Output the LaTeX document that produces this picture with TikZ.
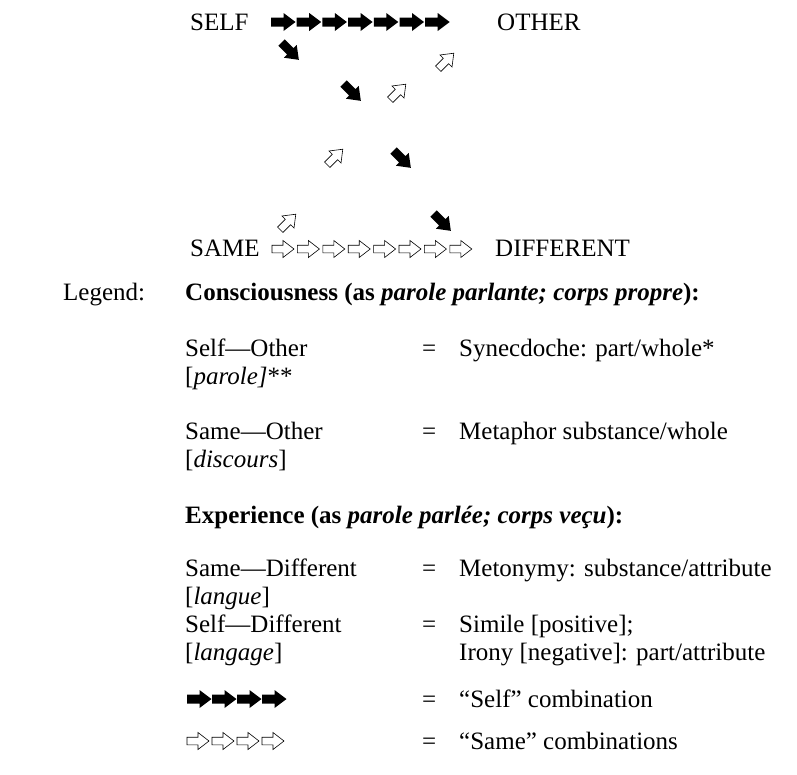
\documentclass[tikz,border=0pt]{standalone}
\usepackage{fontspec}
\setmainfont{Liberation Serif}

\tikzset{
  selfarrow/.pic={\fill (-12,-4.5) -- (0.5,-4.5) -- (0.5,-9) -- (12.5,0) -- (0.5,9) -- (0.5,4.5) -- (-12,4.5) -- cycle;},
  samearrow/.pic={\draw[line width=0.6pt,fill=white] (-11,-3.8) -- (0,-3.8) -- (0,-8.5) -- (11,0) -- (0,8.5) -- (0,3.8) -- (-11,3.8) -- cycle;},
}

\begin{document}
\begin{tikzpicture}[x=1pt,y=-1pt,
    every node/.style={font=\fontsize{25}{30}\selectfont,inner sep=0pt},
    word/.style={anchor=base west}]
    \useasboundingbox (0,0) rectangle (797,774);
    % the square of terms
    \node[word] (self) at (190,30) {SELF};
    \node[word] (other) at (497,30) {OTHER};
    \node[word] (same) at (190,256) {SAME};
    \node[word] (diff) at (495,256) {DIFFERENT};
    \foreach \i in {0,...,6}
      \pic at (283+25.7*\i,22) {selfarrow};
    \foreach \i in {0,...,7}
      \pic at (283+25.4*\i,249) {samearrow};
    \foreach \x/\y in {290/51,352/92,402/159,442/222}
      \pic[rotate=-45] at (\x,\y) {selfarrow};
    \foreach \x/\y in {446/61,398/92,335/157,288/222}
      \pic[rotate=45] at (\x,\y) {samearrow};
    % legend
    \node[word] (legend) at (63,300) {Legend:};
    \node[word] (cons) at (185,300)
      {\textbf{Consciousness (as \textit{parole parlante; corps propre}):}};
    \node[word] (so) at (185,356) {Self---Other};
    \node[word] (so2) at (185,384) {[\textit{parole]}**};
    \node[word] (soeq) at (422,356) {=};
    \node[word] (sotx) at (459,356) {Synecdoche: part/whole*};
    \node[word] (sm) at (185,439) {Same---Other};
    \node[word] (sm2) at (185,467) {[\textit{discours}]};
    \node[word] (smeq) at (422,439) {=};
    \node[word] (smtx) at (459,439) {Metaphor substance/whole};
    \node[word] (exp) at (185,523)
      {\textbf{Experience (as \textit{parole parlée; corps veçu}):}};
    \node[word] (sd) at (185,576) {Same---Different};
    \node[word] (sd2) at (185,604) {[\textit{langue}]};
    \node[word] (sdeq) at (422,576) {=};
    \node[word] (sdtx) at (459,576) {Metonymy: substance/attribute};
    \node[word] (fd) at (185,632) {Self---Different};
    \node[word] (fd2) at (185,660) {[\textit{langage}]};
    \node[word] (fdeq) at (422,632) {=};
    \node[word] (fdtx) at (459,632) {Simile [positive];};
    \node[word] (fdtx2) at (459,660) {Irony [negative]: part/attribute};
    \foreach \i in {0,...,3}
      \pic at (199+25*\i,699) {selfarrow};
    \node[word] (keyeq) at (422,707) {=};
    \node[word] (keytx) at (459,707) {“Self” combination};
    \foreach \i in {0,...,3}
      \pic at (198+25*\i,741) {samearrow};
    \node[word] (keyeq2) at (422,749) {=};
    \node[word] (keytx2) at (459,749) {“Same” combinations};
\end{tikzpicture}
\end{document}
